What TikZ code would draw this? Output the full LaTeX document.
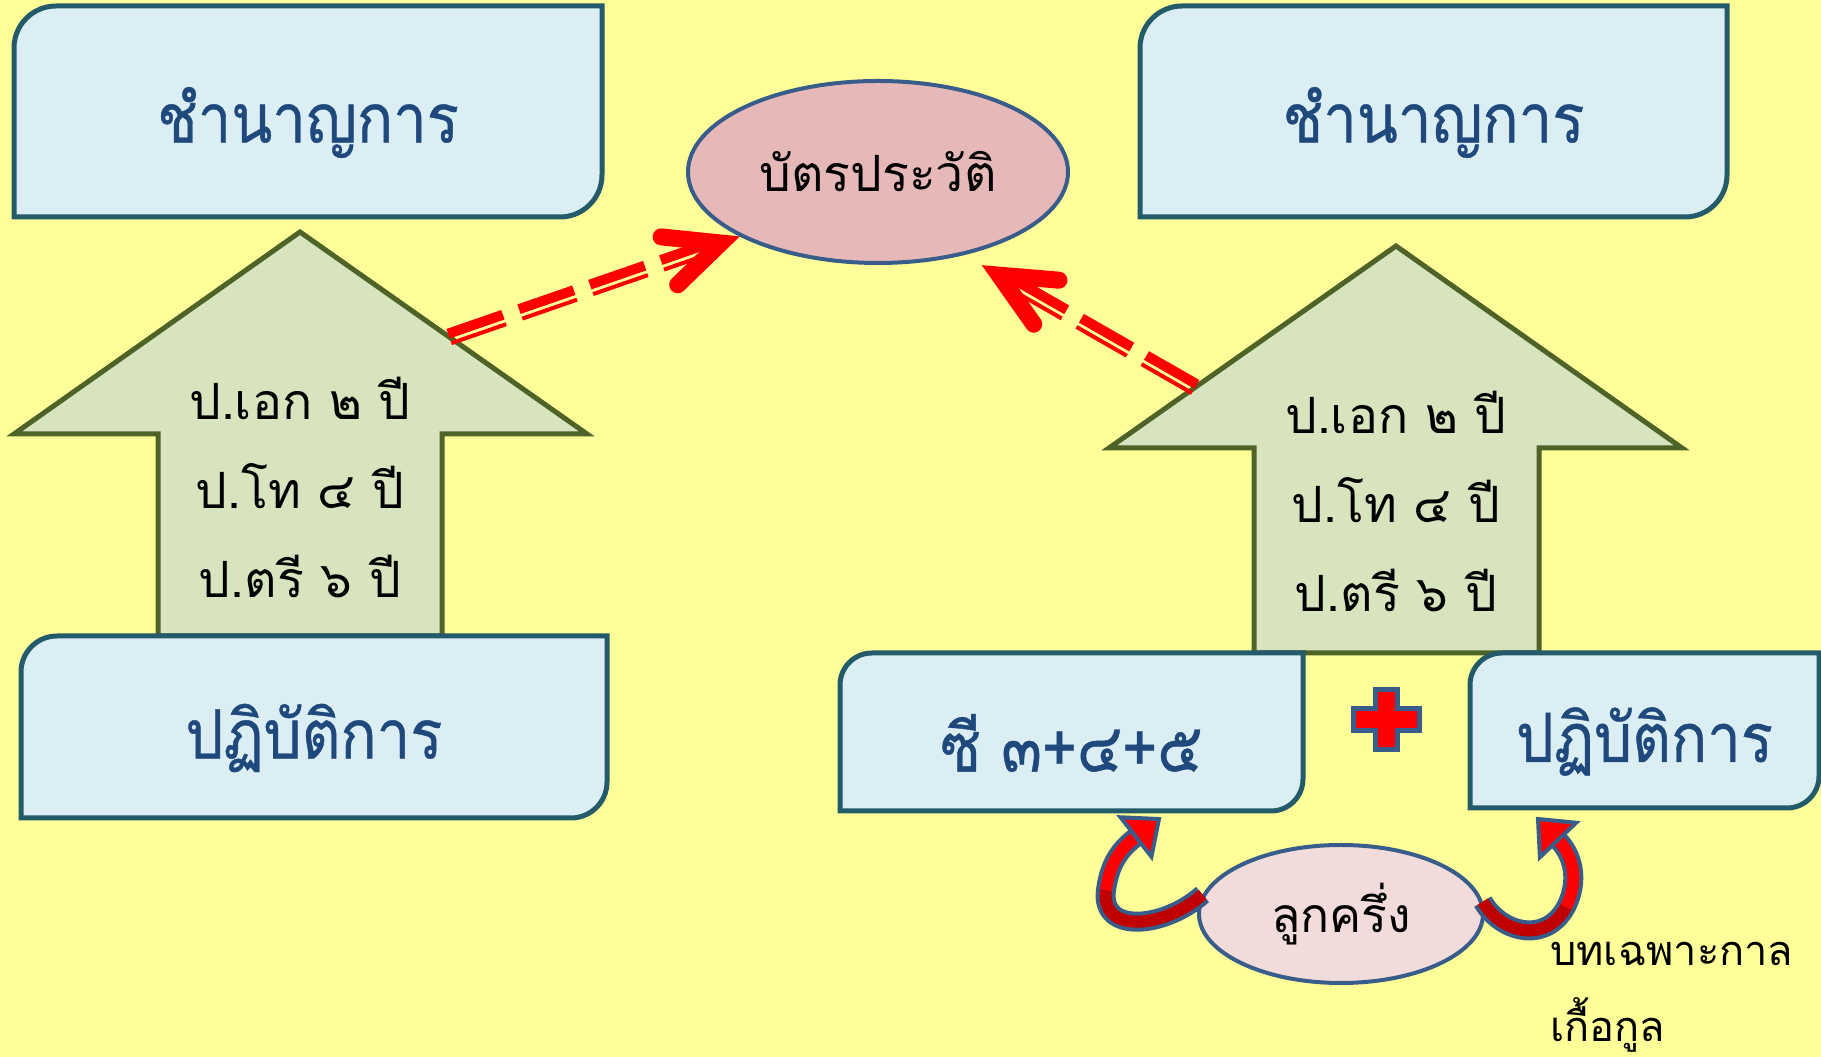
\documentclass[tikz,border=0pt]{standalone}
\usepackage{fontspec}
\newfontfamily\thai[Script=Thai]{Loma}
\newfontfamily\thaibox[Script=Thai, FakeStretch=0.88, FakeBold=0.6]{Loma}
\usetikzlibrary{calc, shapes.geometric}
\definecolor{bg}{HTML}{FFFF99}
\definecolor{boxfill}{HTML}{DAEEF3}
\definecolor{boxline}{HTML}{235B6A}
\definecolor{boxink}{HTML}{1F497D}
\definecolor{upfill}{HTML}{D7E4BD}
\definecolor{upline}{HTML}{4F6228}
\definecolor{cardfill}{HTML}{E6B9B8}
\definecolor{halffill}{HTML}{F2DCDB}
\definecolor{ovalline}{HTML}{385D8A}
\definecolor{darkred}{HTML}{C00000}
\tikzstyle{cutbox} = [draw=boxline, fill=boxfill, line width=5pt]
\tikzstyle{boxtext} = [inner sep=0pt, yshift=-11pt, text=boxink, font=\thaibox\fontsize{68}{80}\selectfont]
\tikzstyle{uparrow} = [draw=upline, fill=upfill, line width=5pt, line join=miter]
\tikzstyle{uptext} = [inner sep=0pt, align=center, font=\thai\fontsize{50}{89}\selectfont]
\tikzstyle{oval} = [ellipse, draw=ovalline, line width=4pt, inner sep=0pt]
\tikzstyle{dashthick} = [red, line width=10pt, dash pattern=on 58pt off 17pt]
\tikzstyle{dashthin} = [red, line width=4pt, dash pattern=on 58pt off 17pt]
\tikzstyle{dashhead} = [red, line width=17pt, line cap=round, line join=miter]
\tikzstyle{curlout} = [ovalline, line width=20pt]
\tikzstyle{curldark} = [darkred, line width=12pt]
\tikzstyle{curllight} = [red, line width=12pt]
\tikzstyle{curlhead} = [fill=red, draw=ovalline, line width=4pt, line join=miter]
\tikzstyle{plusmark} = [fill=red, draw=ovalline, line width=5pt]
\tikzstyle{note} = [inner sep=0pt, anchor=west, align=left, font=\thai\fontsize{41.5}{76}\selectfont]

\begin{document}
\begin{tikzpicture}[x=1pt, y=1pt]
    \fill[bg] (0,0) rectangle (1821,1057);
    \useasboundingbox (0,0) rectangle (1821,1057);

    % up arrows
    \coordinate (ltip) at (300,825); \coordinate (lwing) at (587,623);
    \draw[uparrow] (158,421) -- (158,623) -- (14,623) -- (ltip) -- (lwing) -- (442,623) -- (442,421) -- cycle;
    \node[uptext] (ldeg) at (300,569) {ป.เอก ๒ ปี\\ป.โท ๔ ปี\\ป.ตรี ๖ ปี};
    \coordinate (rtip) at (1396,811); \coordinate (rwing) at (1109,609);
    \draw[uparrow] (1254,404) -- (1254,609) -- (rwing) -- (rtip) -- (1682,609) -- (1539,609) -- (1539,404) -- cycle;
    \node[uptext] (rdeg) at (1396,555) {ป.เอก ๒ ปี\\ป.โท ๔ ปี\\ป.ตรี ๖ ปี};

    % boxes
    \foreach \n/\xa/\ya/\xb/\yb/\rad/\txt in {tl/14/840/602/1051/42/ชำนาญการ,
        tr/1140/840/1727/1051/42/ชำนาญการ, bl/21/239/607/421/36/ปฏิบัติการ,
        cee/840/246/1303/404/32/{ซี ๓+๔+๕}, br/1470/249/1819/404/32/ปฏิบัติการ}
    {
        \draw[cutbox] (\xa,\ya) -- (\xa,\yb-\rad) arc[start angle=180, end angle=90, radius=\rad]
            -- (\xb,\yb) -- (\xb,\ya+\rad) arc[start angle=0, end angle=-90, radius=\rad] -- cycle;
        \node[boxtext] (\n) at ({(\xa+\xb)/2},{(\ya+\yb)/2}) {\txt};
    }

    % card
    \node[oval, fill=cardfill, minimum width=380, minimum height=182,
        font=\thai\fontsize{50}{60}\selectfont] (card) at (878,885) {บัตรประวัติ};

    % dashed double arrows
    \coordinate (lstart) at ($(ltip)!0.52!(lwing)$);
    \coordinate (lend) at ($(card.205)!20pt!(lstart)$);
    \draw[dashthick] ($(lstart)!3.5pt!90:(lend)$) -- ($(lend)!3.5pt!-90:(lstart)$);
    \draw[dashthin] ($(lstart)!6.5pt!-90:(lend)$) -- ($(lend)!6.5pt!90:(lstart)$);
    \draw[dashhead] ($(lend)!60pt!25:(lstart)$) -- (lend) -- ($(lend)!60pt!-25:(lstart)$);

    \coordinate (rstart) at ($(rtip)!0.70!(rwing)$);
    \coordinate (rtop) at ([yshift=-15pt]card.-37);
    \coordinate (rend) at ($(rtop)!20pt!(rstart)$);
    \draw[dashthick] ($(rstart)!3.5pt!-90:(rend)$) -- ($(rend)!3.5pt!90:(rstart)$);
    \draw[dashthin] ($(rstart)!6.5pt!90:(rend)$) -- ($(rend)!6.5pt!-90:(rstart)$);
    \draw[dashhead] ($(rend)!60pt!25:(rstart)$) -- (rend) -- ($(rend)!60pt!-25:(rstart)$);

    % plus
    \draw[plusmark, shift={(1386,337)}] (-11,30) -- (11,30) -- (11,11) -- (33,11) -- (33,-11) -- (11,-11)
        -- (11,-30) -- (-11,-30) -- (-11,-11) -- (-33,-11) -- (-33,11) -- (-11,11) -- cycle;

    % half
    \node[oval, fill=halffill, minimum width=284, minimum height=138,
        font=\thai\fontsize{48}{58}\selectfont] (half) at (1341,143) {ลูกครึ่ง};

    % curved arrows
    \coordinate (lbend) at (1106,167); \coordinate (lcurl) at (1136,220); \coordinate (ceetip) at (1159,238);
    \draw[curlout] (half.172) .. controls (1165,129) and (1100,122) .. (lbend)
        .. controls (1110,197) and (1123,210) .. (lcurl);
    \draw[curldark] (half.172) .. controls (1165,129) and (1100,122) .. (lbend);
    \draw[curllight] (lbend) .. controls (1110,197) and (1123,210) .. (lcurl);
    \filldraw[curlhead] ($(lcurl)!25pt!90:(ceetip)$) -- (ceetip) -- ($(lcurl)!25pt!-90:(ceetip)$) -- cycle;

    \coordinate (rbend) at (1566,150); \coordinate (rcurl) at (1558,217); \coordinate (brtip) at (1538,238);
    \draw[curlout] (half.5) .. controls (1500,125) and (1545,112) .. (rbend)
        .. controls (1580,178) and (1572,203) .. (rcurl);
    \draw[curldark] (half.5) .. controls (1500,125) and (1545,112) .. (rbend);
    \draw[curllight] (rbend) .. controls (1580,178) and (1572,203) .. (rcurl);
    \filldraw[curlhead] ($(rcurl)!25pt!90:(brtip)$) -- (brtip) -- ($(rcurl)!25pt!-90:(brtip)$) -- cycle;

    \node[note] (note) at (1550,60) {บทเฉพาะกาล\\เกื้อกูล};
\end{tikzpicture}
\end{document}
